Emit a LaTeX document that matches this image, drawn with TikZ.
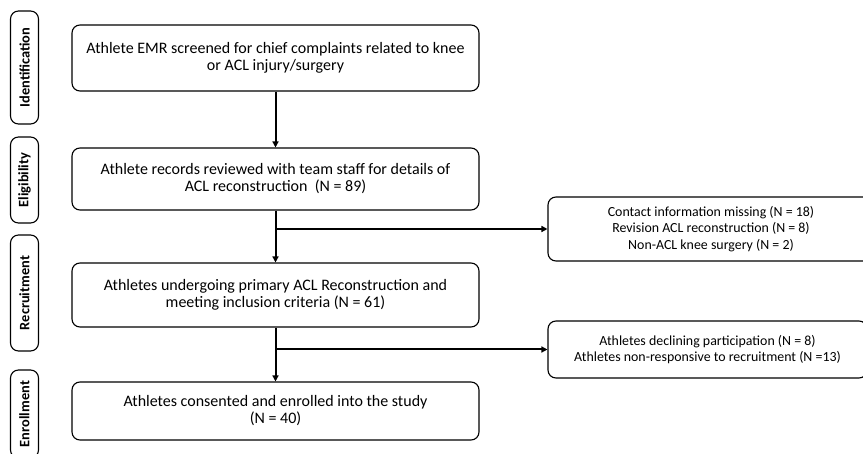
\documentclass[tikz,border=0pt]{standalone}
\usepackage{fontspec}
\setmainfont{Carlito}
\usetikzlibrary{arrows.meta}
\tikzset{
	box/.style={draw,line width=1.1pt,rounded corners=8pt,align=center,inner sep=0pt},
	mainbox/.style={box,minimum width=407pt,font=\fontsize{16}{17}\selectfont},
	sidebox/.style={box,font=\fontsize{13.9}{16.5}\selectfont},
	stage/.style={box,rotate=90,minimum height=28pt,font=\bfseries\fontsize{14.4}{15}\selectfont},
	flow/.style={line width=2pt,-{Triangle[length=6pt,width=6pt]}}
}
\begin{document}
\begin{tikzpicture}[x=1pt,y=1pt]
	\useasboundingbox (0,0) rectangle (863,-454);
	% stage labels
	\node[stage,minimum width=113pt] (ident) at (24.5,-67.5) {Identification};
	\node[stage,minimum width=86pt] (elig) at (24.5,-180) {Eligibility};
	\node[stage,minimum width=116pt] (recr) at (24.5,-293) {Recruitment};
	\node[stage,minimum width=88pt] (enrol) at (24.5,-414) {Enrollment};
	% main boxes
	\node[mainbox,minimum height=66pt] (b1) at (275.5,-58) {Athlete EMR screened for chief complaints related to knee\\or ACL injury/surgery};
	\node[mainbox,minimum height=62pt] (b2) at (275.5,-179) {Athlete records reviewed with team staff for details of\\ACL reconstruction\ \ (N = 89)};
	\node[mainbox,minimum height=64pt] (b3) at (275.5,-295) {Athletes undergoing primary ACL Reconstruction and\\meeting inclusion criteria (N = 61)};
	\node[mainbox,minimum height=58pt] (b4) at (275.5,-411) {Athletes consented and enrolled into the study\\(N = 40)};
	% excluded
	\node[sidebox,minimum width=326pt,minimum height=64pt] (s1) at (711,-229) {Contact information missing (N = 18)\\Revision ACL reconstruction (N = 8)\\Non-ACL knee surgery (N = 2)};
	\node[sidebox,minimum width=319pt,minimum height=57pt] (s2) at (707.5,-349.5) {Athletes declining participation (N = 8)\\Athletes non-responsive to recruitment (N =13)};
	% arrows
	\coordinate (j1) at (b2.south |- s1.west);
	\coordinate (j2) at (b3.south |- s2.west);
	\draw[flow] (b1) -- (b2);
	\draw[flow] (b2) -- (b3);
	\draw[flow] (j1) -- (s1.west);
	\draw[flow] (b3) -- (b4);
	\draw[flow] (j2) -- (s2.west);
\end{tikzpicture}
\end{document}
